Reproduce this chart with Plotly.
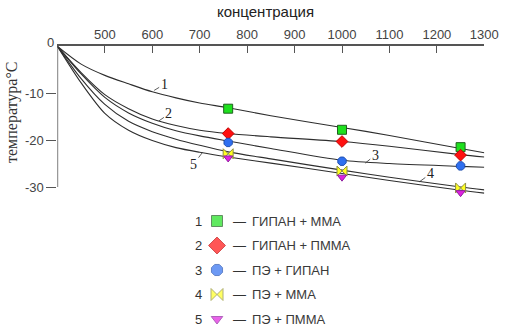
import plotly.graph_objects as go

W, H = 514, 334

# ---- data ----
curve_x = [400, 450, 500, 550, 600, 650, 700, 760, 850, 1000, 1100, 1250, 1300]
curve1 = [0, -3.8, -6.2, -8.0, -9.7, -11.0, -12.1, -13.1, -14.8, -17.3, -19.0, -21.8, -22.7]
curve2 = [0, -5.6, -10.3, -13.3, -15.5, -16.9, -17.9, -18.6, -19.3, -20.3, -21.3, -23.1, -23.6]
curve3 = [0, -5.9, -10.9, -14.2, -16.4, -18.0, -19.1, -20.2, -21.8, -24.3, -25.0, -25.6, -25.8]
curve4 = [0, -6.9, -12.4, -16.0, -18.2, -19.8, -21.1, -22.5, -24.0, -26.4, -27.9, -30.0, -30.6]
curve5 = [0, -7.8, -14.3, -17.9, -20.1, -21.6, -22.6, -23.6, -24.9, -27.1, -28.6, -30.7, -31.3]
curves = [curve1, curve2, curve3, curve4, curve5]

marker_x = [760, 1000, 1250]
marker_y = [
    [-13.3, -17.8, -21.5],
    [-18.6, -20.3, -23.2],
    [-20.5, -24.5, -25.5],
    [-22.9, -26.6, -30.2],
    [-23.8, -27.9, -31.2],
]
series_names = ["ГИПАН + ММА", "ГИПАН + ПММА", "ПЭ + ГИПАН", "ПЭ + ММА", "ПЭ + ПММА"]
series_nums = ["1", "2", "3", "4", "5"]
symbols = ["square", "diamond", "octagon", "bowtie", "triangle-down"]
fills = ["#1ee01e", "#ff1010", "#2f6ff0", "#ffff20", "#e020e0"]
outlines = ["#206020", "#c00000", "#2050b0", "#909040", "#9020a0"]
sizes = [9, 9, 9, 10, 8]
legend_sizes = [11, 13, 12, 12, 10]

x_ticks = [500, 600, 700, 800, 900, 1000, 1100, 1200, 1300]
y_ticks = [-10, -20, -30]
y_ticktext = ["-10", "-20", "-30"]

# curve label anchors (point on curve) and text offsets
label_pts = [(604, -9.4), (614, -15.9), (1049, -24.9), (1163, -28.9), (706, -22.6)]
label_off = [(10, -6), (10, -7), (10, -8), (11, -8), (-9, 12)]

# ---- layout geometry (pixels) ----
x0_px, x1_px = 57.4, 484.3
ytop_px, ybot_px = 46.3, 196.4
fig = go.Figure()

for i, cy in enumerate(curves):
    fig.add_trace(go.Scatter(x=curve_x, y=cy, mode="lines",
                             line=dict(color="#2e2e2e", width=1.1, shape="spline", smoothing=0.8),
                             showlegend=False, hoverinfo="skip"))

for i in range(5):
    fig.add_trace(go.Scatter(x=marker_x, y=marker_y[i], mode="markers",
                             marker=dict(symbol=symbols[i], size=sizes[i], color=fills[i],
                                         line=dict(color=outlines[i], width=1)),
                             cliponaxis=False, showlegend=False))

# legend markers on a helper axis (rows 1..5)
fig.add_trace(go.Scatter(x=[217] * 5, y=[1, 2, 3, 4, 5], mode="markers",
                         marker=dict(symbol=symbols, size=legend_sizes, color=fills,
                                     line=dict(color=outlines, width=1)),
                         xaxis="x2", yaxis="y2", cliponaxis=False, showlegend=False))

sans = "Liberation Sans, Arial"
serif = "Liberation Serif, Times New Roman"
annotations = []
for i in range(5):
    annotations.append(dict(x=198, y=i + 1, xref="x2", yref="y2", text=series_nums[i],
                            xanchor="center", yanchor="middle",
                            showarrow=False, font=dict(family=sans, size=13, color="#333")))
    annotations.append(dict(x=231, y=i + 1, xref="x2", yref="y2", text="—", xanchor="left", yanchor="middle",
                            showarrow=False, font=dict(family=sans, size=13, color="#333")))
    annotations.append(dict(x=250, y=i + 1, xref="x2", yref="y2", text=series_names[i], xanchor="left",
                            yanchor="middle",
                            showarrow=False, font=dict(family=sans, size=13, color="#3a3a3a")))
    (px, py), (ax, ay) = label_pts[i], label_off[i]
    annotations.append(dict(x=px, y=py, xref="x", yref="y", text=series_nums[i], showarrow=True,
                            arrowhead=0, arrowwidth=0.8, arrowcolor="#333", ax=ax, ay=ay, standoff=0,
                            font=dict(family=serif, size=14, color="#222")))

annotations.append(dict(x=265.5 / W, y=1 - 12 / H, xref="paper", yref="paper", text="концентрация",
                        xanchor="center", yanchor="middle",
                        showarrow=False, font=dict(family=sans, size=15, color="#222")))
annotations.append(dict(x=12 / W, y=1 - 112 / H, xref="paper", yref="paper", text="температура°С",
                        xanchor="center", yanchor="middle", textangle=-90, showarrow=False,
                        font=dict(family=serif, size=16, color="#333")))
annotations.append(dict(x=50 / W, y=1 - 42 / H, xref="paper", yref="paper", text="0",
                        xanchor="center", yanchor="middle",
                        showarrow=False, font=dict(family=sans, size=13, color="#444")))

fig.update_layout(
    width=W, height=H, margin=dict(l=0, r=0, t=0, b=0),
    paper_bgcolor="white", plot_bgcolor="white",
    annotations=annotations,
    xaxis=dict(domain=[x0_px / W, x1_px / W], range=[400, 1300], side="top",
               tickvals=x_ticks, ticks="inside", ticklen=7, tickwidth=1.3, tickcolor="#555",
               showline=True, linecolor="#555", linewidth=1.5, showgrid=False, zeroline=False,
               tickfont=dict(family=sans, size=13, color="#444"), automargin=False),
    yaxis=dict(domain=[1 - ybot_px / H, 1 - ytop_px / H], range=[-32, 0],
               tickvals=y_ticks, ticktext=y_ticktext, ticks="outside", ticklen=10, tickwidth=1.3,
               tickcolor="#555", showline=False, showgrid=False, zeroline=False,
               tickfont=dict(family=sans, size=13, color="#444"), automargin=False),
    xaxis2=dict(domain=[0, 1], range=[0, W], visible=False, anchor="y2"),
    yaxis2=dict(domain=[1 - 331.25 / H, 1 - 208.75 / H], range=[5.5, 0.5], visible=False, anchor="x2"),
    shapes=[dict(type="line", xref="x", yref="y", x0=400, x1=400, y0=0, y1=-30,
                 line=dict(color="#555", width=1.5))],
)

fig.write_html("out.html", config={"displayModeBar": False},
               post_script="document.body.style.margin='0';")
